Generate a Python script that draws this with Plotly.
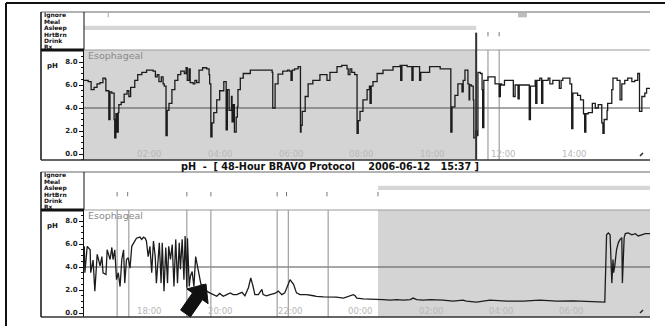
import plotly.graph_objects as go

W, H = 665, 326

# ---- pH recording, first window (minutes after midnight, pH) ----
top_minutes = [9, 16, 21, 26, 31, 36, 41, 45, 46, 50, 51, 53, 56, 60, 61, 63, 65, 67, 68, 72,
               77, 82, 85, 88, 95, 100, 107, 115, 126, 130, 133, 136, 140, 143, 145, 148, 150, 153, 158, 163,
               168, 173, 179, 182, 184, 187, 189, 194, 197, 200, 204, 210, 217, 221, 222, 224, 226, 229, 234, 239,
               246, 250, 252, 255, 259, 260, 262, 264, 267, 269, 270, 274, 279, 291, 307, 319, 328, 329, 333, 338,
               346, 354, 357, 360, 362, 366, 372, 376, 377, 379, 384, 389, 397, 409, 415, 421, 426, 438, 446, 455,
               457, 460, 463, 468, 472, 474, 477, 482, 489, 493, 494, 496, 499, 506, 516, 533, 545, 546, 548, 557,
               565, 567, 573, 578, 580, 583, 595, 613, 630, 631, 633, 638, 643, 650, 652, 655, 660, 662, 663, 666,
               669, 670, 673, 675, 677, 681, 684, 685, 687, 694, 702, 706, 711, 713, 715, 717, 722, 732, 737, 740,
               743, 745, 747, 760, 764, 766, 769, 774, 775, 777, 782, 785, 787, 791, 796, 799, 804, 813, 815, 818,
               821, 829, 833, 836, 838, 846, 851, 856, 858, 860, 864, 871, 876, 881, 887, 889, 891, 896, 897, 904,
               906, 913, 918, 921, 926, 931, 938, 943, 948, 951, 955, 960, 963, 969]
top_ph = [6.4, 6.3, 5.6, 5.8, 6.1, 6.2, 6.6, 6.5, 5.5, 5.5, 3.0, 5.4, 5.3, 3.0, 1.4, 3.5, 1.9, 3.6, 4.3, 4.5,
          5.2, 5.5, 5.0, 5.8, 6.4, 6.9, 7.1, 7.3, 7.2, 6.7, 6.9, 6.3, 6.7, 6.1, 5.9, 1.6, 3.8, 4.4, 5.6, 6.4,
          6.9, 7.2, 7.0, 7.5, 6.4, 7.4, 6.2, 6.1, 6.4, 6.2, 7.3, 7.5, 7.4, 6.9, 6.1, 1.5, 2.7, 3.6, 4.7, 5.5,
          6.3, 2.1, 5.6, 3.8, 5.0, 2.8, 4.3, 1.9, 3.2, 4.1, 5.6, 6.6, 7.0, 7.3, 7.3, 7.3, 7.1, 4.0, 6.1, 6.95,
          7.2, 7.3, 7.2, 6.4, 7.3, 7.4, 7.6, 1.9, 2.5, 3.7, 5.0, 6.1, 6.4, 6.9, 6.9, 6.4, 7.1, 7.6, 7.7, 7.4,
          6.9, 7.4, 7.1, 6.9, 1.8, 2.9, 3.7, 4.7, 5.6, 5.9, 4.4, 5.9, 6.3, 7.0, 7.3, 7.6, 7.7, 6.4, 7.7, 7.6,
          6.4, 7.6, 7.6, 6.4, 7.1, 7.1, 7.6, 7.4, 7.4, 1.9, 4.1, 5.1, 6.1, 5.4, 6.4, 7.3, 6.1, 4.7, 6.0, 5.9,
          4.7, 1.4, 2.0, 1.6, 7.1, 7.0, 5.6, 2.3, 6.4, 6.7, 6.7, 6.1, 6.1, 5.0, 6.1, 6.0, 6.4, 6.4, 5.0, 6.0,
          6.0, 4.8, 6.0, 6.0, 3.0, 5.9, 5.9, 6.4, 4.4, 6.4, 6.6, 4.4, 6.4, 6.4, 6.6, 6.1, 6.4, 6.4, 5.7, 6.4,
          6.6, 6.6, 6.1, 2.2, 5.3, 5.1, 4.7, 3.5, 1.9, 3.5, 3.6, 4.4, 4.0, 4.3, 2.7, 1.8, 3.0, 3.8, 4.4, 5.6,
          6.6, 6.4, 4.7, 6.1, 6.4, 6.6, 6.3, 6.4, 7.0, 3.7, 5.0, 5.3, 5.7, 5.7]

# ---- pH recording, second window (minutes after first midnight, pH) ----
bottom_minutes = [968, 969, 973, 978, 979, 983, 986, 990, 995, 998, 1000, 1005, 1007, 1012, 1015, 1017, 1020, 1023, 1026, 1029,
                  1032, 1035, 1037, 1040, 1043, 1046, 1049, 1052, 1055, 1057, 1063, 1066, 1069, 1072, 1074, 1077, 1080, 1083, 1086, 1089,
                  1091, 1094, 1096, 1099, 1101, 1104, 1107, 1110, 1112, 1115, 1118, 1121, 1124, 1127, 1130, 1132, 1135, 1138, 1140, 1143,
                  1144, 1147, 1149, 1152, 1155, 1158, 1161, 1164, 1167, 1171, 1174, 1177, 1182, 1188, 1194, 1199, 1205, 1211, 1217, 1222,
                  1228, 1237, 1242, 1248, 1252, 1256, 1259, 1265, 1271, 1273, 1279, 1285, 1293, 1299, 1305, 1310, 1319, 1325, 1330, 1336,
                  1347, 1359, 1364, 1376, 1387, 1398, 1410, 1427, 1430, 1433, 1444, 1455, 1467, 1478, 1490, 1501, 1512, 1524, 1529, 1535,
                  1546, 1558, 1580, 1597, 1614, 1620, 1637, 1660, 1689, 1717, 1745, 1774, 1802, 1831, 1856, 1859, 1862, 1865, 1868, 1870,
                  1871, 1873, 1876, 1879, 1882, 1885, 1886, 1889, 1891, 1896, 1902, 1908, 1913, 1919, 1925, 1933]
bottom_ph = [5.8, 3.5, 5.8, 5.5, 3.5, 4.6, 1.9, 5.1, 4.1, 4.9, 3.5, 3.35, 5.5, 4.65, 5.7, 4.65, 5.5, 2.9, 3.5, 2.3,
             4.65, 5.5, 2.6, 4.65, 4.8, 3.9, 5.8, 6.1, 6.4, 6.5, 6.6, 6.4, 6.6, 6.5, 6.25, 4.9, 5.8, 3.5, 6.25, 4.9,
             2.6, 5.2, 6.1, 2.6, 6.1, 1.9, 5.7, 2.6, 5.8, 4.65, 5.95, 2.3, 6.4, 2.6, 6.1, 3.8, 6.4, 2.9, 6.7, 2.2,
             6.5, 2.3, 3.2, 3.6, 2.3, 4.9, 4.1, 3.35, 2.5, 2.4, 2.2, 1.9, 1.75, 1.6, 1.45, 1.7, 1.45, 1.6, 1.75, 1.6,
             1.6, 1.8, 1.5, 2.2, 3.05, 2.3, 1.6, 1.6, 2.05, 1.6, 1.5, 1.6, 1.7, 1.9, 1.6, 1.75, 2.9, 2.5, 1.75, 1.6,
             1.6, 1.5, 1.45, 1.4, 1.4, 1.38, 1.3, 1.6, 1.5, 1.3, 1.23, 1.23, 1.17, 1.17, 1.12, 1.17, 1.12, 1.17, 1.3, 1.17,
             1.12, 1.17, 1.12, 1.03, 1.12, 1.03, 0.94, 1.12, 1.03, 1.03, 1.12, 1.03, 1.06, 1.03, 0.95, 6.8, 6.97, 6.8, 2.6, 4.65,
             3.5, 4.1, 5.5, 6.1, 6.4, 6.55, 2.6, 6.55, 6.9, 6.97, 6.8, 6.9, 6.7, 6.8, 6.9, 6.9]

top_tick_minutes = [120, 240, 360, 480, 600, 720, 840]
top_tick_labels = ["02:00", "04:00", "06:00", "08:00", "10:00", "12:00", "14:00"]
bottom_tick_minutes = [1080, 1200, 1320, 1440, 1560, 1680, 1800]
bottom_tick_labels = ["18:00", "20:00", "22:00", "00:00", "02:00", "04:00", "06:00"]
ph_tick_values = [0, 2, 4, 6, 8]

event_rows = ["Ignore", "Meal", "Asleep", "HrtBrn", "Drink", "Rx"]
top_window = [8.9, 968.8]
bottom_window = [967.5, 1933.1]
top_asleep = [8.9, 674]
bottom_asleep = [1469, 1933.1]
top_ignore = [[745, 760]]
top_ignore_flags = [50]
top_events = [674, 694, 713]
bottom_events = [1024, 1044, 1143, 1184, 1297, 1316, 1384]
bottom_event_flags = [1024, 1042, 1143, 1184, 1297, 1313, 1382, 1469]
ph_threshold = 4.0
title_text = "pH\u00a0\u00a0-\u00a0\u00a0[\u00a048-Hour BRAVO Protocol\u00a0\u00a0\u00a0\u00a02006-06-12\u00a0\u00a0\u00a015:37\u00a0]"

# ---- page geometry (pixels) ----
LABEL_L, PLOT_L, PLOT_R = 41, 84, 650
PX_PER_PH = 11.5
panels = [
    dict(top=12, rows_bottom=50, bottom=160, ph0=154, xa="x", ya="y",
         window=top_window, minutes=top_minutes, ph=top_ph, asleep=top_asleep,
         ignore=top_ignore, ignore_flags=top_ignore_flags,
         events=top_events, flags=top_events, ticks=top_tick_minutes, labels=top_tick_labels, shape="hv"),
    dict(top=172, rows_bottom=210, bottom=317, ph0=313, xa="x2", ya="y2",
         window=bottom_window, minutes=bottom_minutes, ph=bottom_ph, asleep=bottom_asleep,
         ignore=[], ignore_flags=[],
         events=bottom_events, flags=bottom_event_flags, ticks=bottom_tick_minutes, labels=bottom_tick_labels,
         shape="linear"),
]


def fx(p):
    return p / W


def fy(p):
    return 1 - p / H


def pline(x0, y0, x1, y1, color, width):
    return dict(type="line", xref="paper", yref="paper", x0=fx(x0), y0=fy(y0), x1=fx(x1), y1=fy(y1),
                line=dict(color=color, width=width), layer="above")


fig = go.Figure()
shapes = []
annotations = []
layout_axes = {}

# outer frame
shapes.append(pline(6, 3, 665, 3, "#111", 2))
shapes.append(pline(6, 3, 6, 326, "#111", 2))

xtick_font = dict(family="DejaVu Sans", size=8.5, color="#b8b8b8")
ytick_font = dict(family="DejaVu Sans", size=7, color="#222", weight="bold")

for i, p in enumerate(panels):
    sfx = "" if i == 0 else str(i + 1)
    fig.add_trace(go.Scatter(x=p["minutes"], y=p["ph"], mode="lines", xaxis=p["xa"], yaxis=p["ya"],
                             line=dict(color="#1c1c1c", width=1.3, shape=p["shape"]),
                             hoverinfo="skip", showlegend=False))
    yr = [(p["ph0"] - p["bottom"]) / PX_PER_PH, (p["ph0"] - p["rows_bottom"]) / PX_PER_PH]
    layout_axes["xaxis" + sfx] = dict(
        domain=[fx(PLOT_L), fx(PLOT_R)], range=p["window"], anchor=p["ya"],
        showticklabels=False, ticks="", showline=False, showgrid=False, zeroline=False, fixedrange=True)
    layout_axes["yaxis" + sfx] = dict(
        domain=[fy(p["bottom"]), fy(p["rows_bottom"])], range=yr, anchor=p["xa"],
        tickmode="array", tickvals=ph_tick_values, tickformat=".1f",
        ticks="outside", ticklen=4, tickcolor="#111", tickwidth=1,
        minor=dict(dtick=0.5, ticks="outside", ticklen=2, tickcolor="#111", showgrid=False),
        showline=True, linecolor="#111", linewidth=1, showgrid=False, zeroline=False,
        tickfont=ytick_font, fixedrange=True)

    # clock labels, drawn faintly inside the pH area
    for m, lab in zip(p["ticks"], p["labels"]):
        annotations.append(dict(text=lab, x=m, xref=p["xa"], y=fy(p["bottom"] - 6.5), yref="paper",
                                xanchor="center", yanchor="middle", showarrow=False, font=xtick_font))

    y_plot0, y_plot1 = fy(p["bottom"]), fy(p["rows_bottom"])
    row_h = (p["rows_bottom"] - p["top"]) / len(event_rows)

    def row_span(k, pad=1.0):
        return fy(p["top"] + (k + 1) * row_h - pad), fy(p["top"] + k * row_h + pad)

    # asleep shading in the pH area and in the event row
    shapes.append(dict(type="rect", xref=p["xa"], yref="paper", x0=p["asleep"][0], x1=p["asleep"][1],
                       y0=y_plot0, y1=y_plot1, fillcolor="#d4d4d4", line=dict(width=0), layer="below"))
    a0, a1 = row_span(2)
    shapes.append(dict(type="rect", xref=p["xa"], yref="paper", x0=p["asleep"][0], x1=p["asleep"][1],
                       y0=a0, y1=a1, fillcolor="#d6d6d6", line=dict(width=0), layer="below"))
    # ignored stretches
    g0, g1 = row_span(0)
    for s, e in p["ignore"]:
        shapes.append(dict(type="rect", xref=p["xa"], yref="paper", x0=s, x1=e, y0=g0, y1=g1,
                           fillcolor="#bdbdbd", line=dict(width=0), layer="below"))
    for m in p["ignore_flags"]:
        shapes.append(dict(type="line", xref=p["xa"], yref="paper", x0=m, x1=m, y0=g0, y1=g1,
                           line=dict(color="#aaa", width=1), layer="above"))
    # reflux threshold
    shapes.append(dict(type="line", xref=p["xa"] + " domain", yref=p["ya"], x0=0, x1=1,
                       y0=ph_threshold, y1=ph_threshold, line=dict(color="#505050", width=1), layer="below"))
    # event lines and flags
    for m in p["events"]:
        shapes.append(dict(type="line", xref=p["xa"], yref="paper", x0=m, x1=m, y0=y_plot0, y1=y_plot1,
                           line=dict(color="#8c8c8c", width=1), layer="below"))
    f0, f1 = row_span(3)
    for m in p["flags"]:
        shapes.append(dict(type="line", xref=p["xa"], yref="paper", x0=m, x1=m, y0=f0, y1=f1,
                           line=dict(color="#777", width=1), layer="above"))
    # panel frame
    shapes.append(pline(LABEL_L, p["top"], PLOT_R, p["top"], "#666", 1))
    shapes.append(pline(LABEL_L, p["top"], LABEL_L, p["bottom"], "#111", 1.5))
    shapes.append(pline(PLOT_L, p["top"], PLOT_L, p["rows_bottom"], "#111", 1))
    shapes.append(pline(PLOT_L, p["rows_bottom"], PLOT_R, p["rows_bottom"], "#999", 1))
    shapes.append(pline(LABEL_L, p["rows_bottom"], PLOT_L, p["rows_bottom"], "#111", 3))
    shapes.append(pline(LABEL_L, p["bottom"], PLOT_R, p["bottom"], "#333", 1.5))
    # small end mark
    shapes.append(pline(PLOT_R - 10, p["bottom"] - 4, PLOT_R - 7, p["bottom"] - 7, "#222", 1.5))

    for k, name in enumerate(event_rows):
        annotations.append(dict(text=name, x=fx(LABEL_L + 2), y=fy(p["top"] + (k + 0.5) * row_h),
                                xref="paper", yref="paper", xanchor="left", yanchor="middle", showarrow=False,
                                borderpad=0,
                                font=dict(family="DejaVu Sans", size=6, color="#111", weight="bold")))
    annotations.append(dict(text="pH", x=fx(45), y=fy(p["rows_bottom"] + 16), xref="paper", yref="paper",
                            xanchor="left", yanchor="middle", showarrow=False,
                            font=dict(family="DejaVu Sans", size=7, color="#111", weight="bold")))
    annotations.append(dict(text="Esophageal", x=fx(PLOT_L + 2), y=fy(p["rows_bottom"] + 5),
                            xref="paper", yref="paper", xanchor="left", yanchor="middle", showarrow=False,
                            font=dict(family="DejaVu Sans", size=9.5, color="#8a8a8a")))

# wake-up marker on the first day
shapes.append(dict(type="line", xref="x", yref="paper", x0=top_events[0], x1=top_events[0],
                   y0=fy(160), y1=fy(33), line=dict(color="#333", width=2), layer="above"))

# title strip between the two windows
annotations.append(dict(text=title_text, x=fx(329.5), y=fy(166.5), xref="paper", yref="paper",
                        xanchor="center", yanchor="middle", showarrow=False,
                        font=dict(family="DejaVu Sans", size=9.7, color="#111", weight="bold")))

# pointer arrow onto the loss of acid clearance
arrow_pts = [(206, 284), (208.1, 303.7), (202.4, 299.7), (190.4, 316.9), (180.6, 310.1), (192.5, 292.9), (186.8, 288.9)]
path = "M " + " L ".join(f"{fx(a):.5f},{fy(b):.5f}" for a, b in arrow_pts) + " Z"
shapes.append(dict(type="path", xref="paper", yref="paper", path=path, fillcolor="#111",
                   line=dict(color="#111", width=1), layer="above"))

fig.update_layout(width=W, height=H, margin=dict(l=0, r=0, t=0, b=0), paper_bgcolor="white",
                  plot_bgcolor="rgba(0,0,0,0)", showlegend=False, shapes=shapes, annotations=annotations,
                  **layout_axes)

fig.write_html("out.html", config={"displayModeBar": False})
